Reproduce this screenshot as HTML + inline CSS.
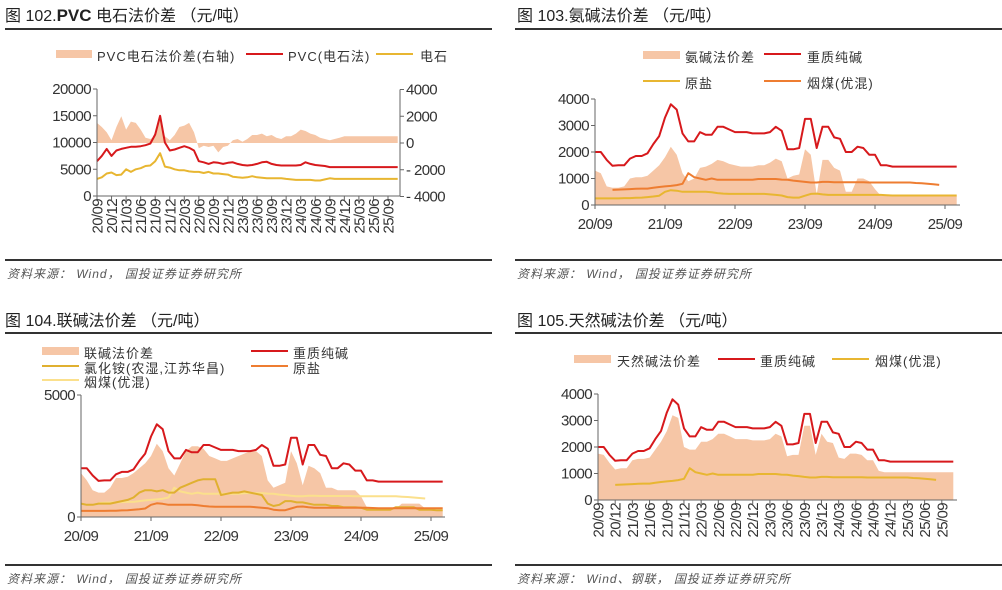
<!DOCTYPE html>
<html><head><meta charset="utf-8">
<style>
html,body{margin:0;padding:0;background:#fff;}
svg{display:block;font-family:"Liberation Sans","Noto Sans CJK SC",sans-serif;}
.t{font-size:16px;fill:#222;}
.ax{font-size:15px;fill:#333;letter-spacing:-0.6px;}
.lg{font-size:13px;fill:#333;letter-spacing:1px;}
.src{font-size:12px;fill:#555;font-style:italic;letter-spacing:1px;}
</style></head>
<body>
<svg id="page" width="1002" height="590" viewBox="0 0 1002 590">
<g>
<text class="t" x="5" y="21">图 102.<tspan font-weight="bold" font-size="17">PVC</tspan> 电石法价差 （元/吨）</text>
<rect x="5" y="28" width="487" height="2" fill="#333"/>
<rect x="5" y="259" width="487" height="2" fill="#333"/>
<text class="src" x="7" y="278">资料来源： Wind， 国投证券证券研究所</text>
</g>
<g>
<text class="t" x="517" y="21">图 103.氨碱法价差 （元/吨）</text>
<rect x="515" y="28" width="487" height="2" fill="#333"/>
<rect x="515" y="259" width="487" height="2" fill="#333"/>
<text class="src" x="517" y="278">资料来源： Wind， 国投证券证券研究所</text>
</g>
<g>
<text class="t" x="5" y="326">图 104.联碱法价差 （元/吨）</text>
<rect x="5" y="332" width="487" height="2" fill="#333"/>
<rect x="5" y="564" width="487" height="2" fill="#333"/>
<text class="src" x="7" y="583">资料来源： Wind， 国投证券证券研究所</text>
</g>
<g>
<text class="t" x="517" y="326">图 105.天然碱法价差 （元/吨）</text>
<rect x="515" y="332" width="487" height="2" fill="#333"/>
<rect x="515" y="564" width="487" height="2" fill="#333"/>
<text class="src" x="517" y="583">资料来源： Wind、钢联， 国投证券证券研究所</text>
</g>
<g>
<rect x="56" y="50" width="36" height="8" fill="#f6c6a6"/>
<text class="lg" x="97" y="61">PVC电石法价差(右轴)</text>
<rect x="246" y="53" width="37" height="2" fill="#d7191c"/>
<text class="lg" x="288" y="61">PVC(电石法)</text>
<rect x="376" y="53" width="37" height="2" fill="#e8b631"/>
<text class="lg" x="420" y="61">电石</text>
</g>
<g>
<rect x="643" y="51" width="37" height="8" fill="#f6c6a6"/>
<text class="lg" x="685" y="62">氨碱法价差</text>
<rect x="764" y="53" width="37" height="2" fill="#d7191c"/>
<text class="lg" x="807" y="62">重质纯碱</text>
<rect x="643" y="80" width="37" height="2" fill="#e8b631"/>
<text class="lg" x="685" y="88">原盐</text>
<rect x="764" y="80" width="37" height="2" fill="#ee7d31"/>
<text class="lg" x="807" y="88">烟煤(优混)</text>
</g>
<g>
<rect x="42" y="347" width="37" height="8" fill="#f6c6a6"/>
<text class="lg" x="84" y="358">联碱法价差</text>
<rect x="251" y="350" width="37" height="2" fill="#d7191c"/>
<text class="lg" x="293" y="358">重质纯碱</text>
<rect x="42" y="365" width="37" height="2" fill="#e0b030"/>
<text class="lg" x="84" y="373">氯化铵(农湿,江苏华昌)</text>
<rect x="251" y="365" width="37" height="2" fill="#ee7d31"/>
<text class="lg" x="293" y="373">原盐</text>
<rect x="42" y="379" width="37" height="2" fill="#fbe08c"/>
<text class="lg" x="84" y="387">烟煤(优混)</text>
</g>
<g>
<rect x="574" y="355" width="37" height="8" fill="#f6c6a6"/>
<text class="lg" x="617" y="366">天然碱法价差</text>
<rect x="718" y="358" width="37" height="2" fill="#d7191c"/>
<text class="lg" x="760" y="366">重质纯碱</text>
<rect x="832" y="358" width="37" height="2" fill="#e8b631"/>
<text class="lg" x="875" y="366">烟煤(优混)</text>
</g>
<g id="plots"></g>
</svg>
<script>
const soda = [2000,2000,1700,1480,1500,1500,1750,1850,1850,1950,2300,2600,3300,3800,3600,2700,2400,2400,2750,2650,2650,2950,2950,2850,2750,2750,2750,2700,2700,2700,2750,2950,2800,2100,2100,2150,3250,3250,2150,2950,2950,2550,2500,2000,2000,2200,2150,1900,1900,1500,1500,1450,1450,1450,1450,1450,1450,1450,1450,1450,1450,1450,1450];
const coal = [null,null,null,570,580,590,600,610,620,620,650,680,700,720,750,800,1200,1050,1000,950,1000,950,950,950,950,950,950,950,980,980,980,980,960,950,920,900,870,850,850,870,870,860,860,860,860,860,860,850,850,850,850,850,850,850,850,830,820,800,780,760,null,null,null];
const salt = [250,250,250,250,250,260,260,270,280,300,320,350,500,560,540,500,500,500,500,500,480,450,430,420,420,420,420,420,420,420,400,380,360,300,280,280,350,420,430,400,380,380,380,380,380,380,380,380,380,380,370,360,360,360,360,360,360,360,360,360,360,360,360];
const ammSpread = [1300,1200,700,650,650,700,1000,1050,1050,1100,1300,1500,1800,2200,1900,1200,900,1000,1400,1450,1550,1700,1650,1550,1500,1450,1450,1450,1500,1500,1600,1750,1650,1000,1100,1150,2100,1900,400,1700,1700,1400,1300,500,500,1000,1000,900,600,350,350,350,350,350,350,350,350,350,350,350,350,350,350];
const unionSpread = [1800,1500,1100,1000,1000,1200,1600,1600,1650,1800,2000,2200,2500,3000,2700,2000,1700,2200,2700,2900,2900,2800,2500,2400,2300,2300,2400,2500,2600,2700,2700,2500,1500,1200,1300,1400,2700,2200,1300,2100,2000,1800,1200,1200,1100,1100,1100,1100,850,400,400,350,350,350,350,550,550,550,550,350,350,300,300];
const nh4cl = [550,500,500,550,550,550,600,650,700,800,1000,1100,1100,1050,1100,1000,1000,1200,1300,1400,1500,1550,1550,1550,900,950,1000,1000,1050,1000,950,900,550,450,500,650,650,600,600,550,500,500,500,450,450,400,400,400,380,300,300,300,300,300,400,400,400,400,300,300,300,280,280];
const natSpread = [1750,1700,1400,1150,1200,1200,1500,1550,1550,1600,1900,2200,2600,3200,3100,2000,1900,1900,2200,2200,2300,2500,2500,2400,2300,2300,2300,2250,2250,2250,2300,2500,2400,1650,1700,1700,2800,2800,1700,2500,2200,2150,1600,1550,1750,1750,1700,1500,1500,1100,1050,1050,1050,1050,1050,1050,1050,1050,1050,1050,1050,1050,1050];
const pvc = [6500,7500,8800,7500,8500,8800,9000,9200,9200,9300,9500,9800,11500,15000,10000,8500,8700,9000,9300,9000,8500,6500,6300,6000,6300,6200,6000,6200,6300,6000,5800,5700,5800,6000,6300,6400,6000,5800,5700,5700,5700,5700,5800,6300,6000,5800,5700,5600,5400,5400,5400,5400,5400,5400,5400,5400,5400,5400,5400,5400,5400,5400,5400];
const carbide = [3200,3500,4200,4400,3900,4000,5000,4500,5000,5200,5600,5700,6500,8000,5500,5300,5000,4800,4800,4600,4500,4500,4300,4500,4200,4200,4100,4000,3600,3500,3400,3500,3700,3500,3400,3300,3300,3300,3300,3200,3100,3000,3000,3000,3000,2900,2900,3100,3300,3200,3200,3200,3200,3200,3200,3200,3200,3200,3200,3200,3200,3200,3200];
const pvcSpread = [1500,1200,800,200,1200,2000,1000,1600,1500,1000,400,300,500,1800,500,200,600,1200,1300,1500,800,-400,-200,-300,-200,-700,-300,-200,200,300,100,300,600,600,700,500,600,400,300,500,500,700,1000,900,700,600,400,300,200,300,400,500,500,500,500,500,500,500,500,500,500,500,500];
const quarterLabels = ["20/09","20/12","21/03","21/06","21/09","21/12","22/03","22/06","22/09","22/12","23/03","23/06","23/09","23/12","24/03","24/06","24/09","24/12","25/03","25/06","25/09"];
const yearLabels = ["20/09","21/09","22/09","23/09","24/09","25/09"];
const ticks102L = [0,5000,10000,15000,20000];
const ticks102R = [-4000,-2000,0,2000,4000];
const ticks4000 = [0,1000,2000,3000,4000];
const ticks104 = [0,5000];

const NS = "http://www.w3.org/2000/svg";
const root = document.getElementById('plots');
function mk(tag, attrs, parent){const e=document.createElementNS(NS,tag);for(const k in attrs)e.setAttribute(k,attrs[k]);(parent||root).appendChild(e);return e;}
function lineD(arr, xs, ys){let d="",pen=false;arr.forEach((v,i)=>{if(v==null){pen=false;return;}d+=(pen?"L":"M")+xs(i).toFixed(1)+","+ys(v).toFixed(1);pen=true;});return d;}
function drawLine(arr,xs,ys,color,name,w){
  const p=mk('path',{d:lineD(arr,xs,ys),fill:'none',stroke:color,'stroke-width':w||2,'stroke-linejoin':'round'});
  
  
  return p;
}
function drawArea(arr,xs,ys,base,name){
  let d="M"+xs(0)+","+ys(base);
  arr.forEach((v,i)=>{d+="L"+xs(i).toFixed(1)+","+ys(v).toFixed(1);});
  d+="L"+xs(arr.length-1).toFixed(1)+","+ys(base)+"Z";
  const p=mk('path',{d:d,fill:'#f6c6a6',stroke:'none'});
  
  
  return p;
}
function yAxis(x,ys,ticks,side,name){
  mk('line',{x1:x,x2:x,y1:ys(ticks[ticks.length-1]),y2:ys(ticks[0]),stroke:'#666','stroke-width':1});
  ticks.forEach(t=>{
    mk('line',{x1:side<0?x-4:x,x2:side<0?x:x+4,y1:ys(t),y2:ys(t),stroke:'#666'});
    const tx=mk('text',{x:side<0?x-6:x+6,y:ys(t)+5,'text-anchor':side<0?'end':'start',class:'ax'});
    tx.textContent=(t<0?"- ":"")+Math.abs(t);
    
    
  });
}
function xAxis(y,x0,x1,labels,xl,rot,name){
  mk('line',{x1:x0,x2:x1,y1:y,y2:y,stroke:'#666'});
  labels.forEach((l,i)=>{
    const x=xl(i);
    mk('line',{x1:x,x2:x,y1:y,y2:y+4,stroke:'#666'});
    let tx;
    if(rot){tx=mk('text',{x:0,y:0,transform:'translate('+(x+5.5)+','+(y+3)+') rotate(-90)','text-anchor':'end',class:'ax'});}
    else{tx=mk('text',{x:x,y:y+24,'text-anchor':'middle',class:'ax'});}
    tx.textContent=l;
    
    
  });
}

(function(){
  const xs=m=>97+m*4.85;
  const yl=v=>196-v/20000*107;
  const yr=v=>143-v/4000*53.5;
  drawArea(pvcSpread,xs,yr,0,'pvc-spread-area');
  drawLine(carbide,xs,yl,'#e8b631','carbide-line');
  drawLine(pvc,xs,yl,'#d7191c','pvc-line');
  yAxis(97,yl,ticks102L,-1,'left-axis');
  yAxis(400,yr,ticks102R,1,'right-axis');
  xAxis(196,97,400,quarterLabels,i=>97+i*3*4.85,true,'chart-102-x');
})();
(function(){
  const xs=m=>595+m*70/12;
  const ys=v=>205-v/4000*106;
  drawArea(ammSpread,xs,ys,0,'ammonia-spread-area');
  drawLine(salt,xs,ys,'#e8b631','salt-line');
  drawLine(coal,xs,ys,'#ee7d31','coal-line');
  drawLine(soda,xs,ys,'#d7191c','soda-line');
  yAxis(595,ys,ticks4000,-1,'chart-103-y');
  xAxis(205,595,960,yearLabels,i=>595+i*70,false,'chart-103-x');
})();
(function(){
  const xs=m=>81+m*70/12;
  const ys=v=>517-v/5000*122;
  drawArea(unionSpread,xs,ys,0,'union-spread-area');
  drawLine(coal,xs,ys,'#fbe08c','coal-line');
  drawLine(nh4cl,xs,ys,'#e0b030','nh4cl-line');
  drawLine(salt,xs,ys,'#ee7d31','salt-line');
  drawLine(soda,xs,ys,'#d7191c','soda-line');
  yAxis(81,ys,ticks104,-1,'chart-104-y');
  xAxis(517,81,445,yearLabels,i=>81+i*70,false,'chart-104-x');
})();
(function(){
  const xs=m=>598+m*5.73;
  const ys=v=>500-v/4000*106;
  drawArea(natSpread,xs,ys,0,'natural-spread-area');
  drawLine(coal,xs,ys,'#e8b631','coal-line');
  drawLine(soda,xs,ys,'#d7191c','soda-line');
  yAxis(598,ys,ticks4000,-1,'chart-105-y');
  xAxis(500,598,957,quarterLabels,i=>598+i*3*5.73,true,'chart-105-x');
})();
</script>
</body></html>
